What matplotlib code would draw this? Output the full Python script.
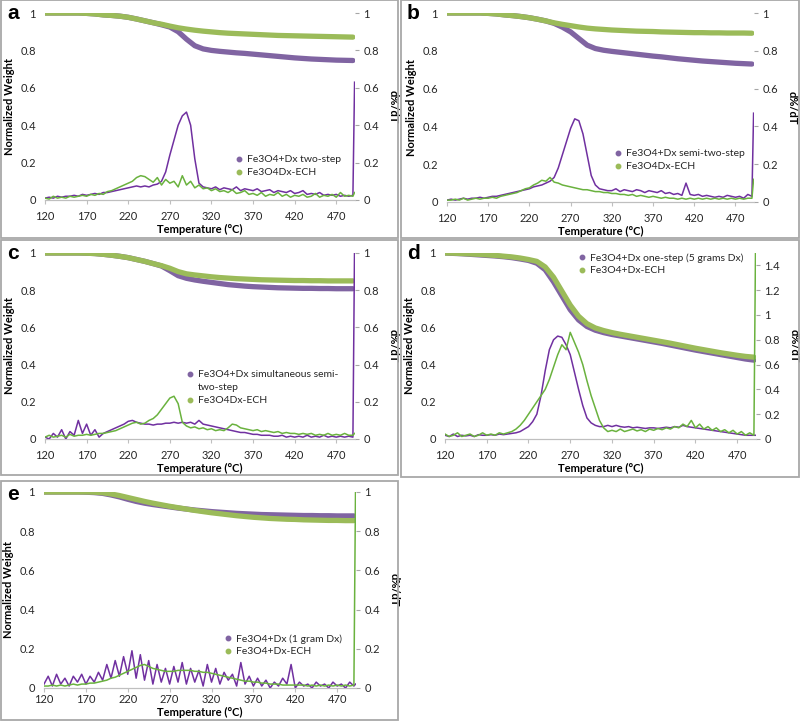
import matplotlib.pyplot as plt
from matplotlib.lines import Line2D
from matplotlib.patches import Rectangle

plt.rcParams['font.family'] = ['Lato', 'DejaVu Sans']

# temperature grids (°C)
temp_tga = [120, 130, 140, 150, 160, 170, 180, 190, 200, 210, 220, 230, 240, 250, 260, 270, 280, 290, 300,
            310, 320, 330, 340, 350, 360, 370, 380, 390, 400, 410, 420, 430, 440, 450, 460, 470, 480, 490]
temp_dtg = [120, 125, 130, 135, 140, 145, 150, 155, 160, 165, 170, 175, 180, 185, 190, 195, 200, 205, 210,
            215, 220, 225, 230, 235, 240, 245, 250, 255, 260, 265, 270, 275, 280, 285, 290, 295, 300, 305,
            310, 315, 320, 325, 330, 335, 340, 345, 350, 355, 360, 365, 370, 375, 380, 385, 390, 395, 400,
            405, 410, 415, 420, 425, 430, 435, 440, 445, 450, 455, 460, 465, 470, 475, 480, 485, 490, 492]

# ---- panel a
tga_a_dx = [1.0, 1.0, 1.0, 1.0, 1.0, 0.998, 0.995, 0.99, 0.987, 0.983, 0.977, 0.968, 0.958, 0.948, 0.937,
            0.925, 0.9, 0.86, 0.825, 0.808, 0.8, 0.795, 0.791, 0.787, 0.784, 0.78, 0.776, 0.772, 0.768, 0.764,
            0.76, 0.757, 0.754, 0.752, 0.75, 0.748, 0.747, 0.746]
tga_a_ech = [1.0, 1.0, 1.0, 1.0, 1.0, 0.998, 0.995, 0.99, 0.987, 0.983, 0.977, 0.968, 0.958, 0.948, 0.94,
             0.93, 0.921, 0.914, 0.908, 0.903, 0.899, 0.895, 0.892, 0.89, 0.888, 0.886, 0.884, 0.882, 0.88,
             0.879, 0.878, 0.877, 0.876, 0.875, 0.874, 0.873, 0.872, 0.871]
dtg_a_dx = [0.01, 0.015, 0.01, 0.02, 0.015, 0.02, 0.02, 0.025, 0.02, 0.03,
            0.025, 0.03, 0.035, 0.03, 0.04, 0.04, 0.045, 0.05, 0.055, 0.06,
            0.065, 0.07, 0.075, 0.07, 0.075, 0.07, 0.08, 0.085, 0.10, 0.15,
            0.24, 0.32, 0.40, 0.45, 0.47, 0.40, 0.22, 0.09, 0.07, 0.065,
            0.06, 0.07, 0.055, 0.065, 0.06, 0.055, 0.07, 0.05, 0.06, 0.055,
            0.05, 0.06, 0.045, 0.05, 0.055, 0.04, 0.05, 0.045, 0.04, 0.05,
            0.035, 0.04, 0.05, 0.03, 0.035, 0.03, 0.04, 0.025, 0.03, 0.025,
            0.03, 0.02, 0.025, 0.02, 0.025, 0.63]
dtg_a_ech = [0.01, 0.005, 0.02, 0.01, 0.015, 0.01, 0.02, 0.015, 0.02, 0.025,
             0.02, 0.03, 0.025, 0.035, 0.03, 0.045, 0.05, 0.06, 0.07, 0.08,
             0.09, 0.10, 0.12, 0.13, 0.125, 0.11, 0.095, 0.12, 0.08, 0.11,
             0.09, 0.10, 0.07, 0.13, 0.08, 0.10, 0.065, 0.08, 0.06, 0.065,
             0.05, 0.06, 0.045, 0.05, 0.04, 0.055, 0.035, 0.04, 0.05, 0.03,
             0.035, 0.025, 0.04, 0.02, 0.03, 0.025, 0.04, 0.02, 0.03, 0.015,
             0.025, 0.02, 0.03, 0.015, 0.02, 0.035, 0.015, 0.025, 0.02, 0.03,
             0.015, 0.04, 0.02, 0.025, 0.02, 0.04]

# ---- panel b
tga_b_dx = [1.0, 1.0, 1.0, 1.0, 1.0, 0.998, 0.995, 0.99, 0.986, 0.981, 0.975, 0.967, 0.958, 0.945, 0.925,
            0.9, 0.865, 0.83, 0.812, 0.803, 0.797, 0.792, 0.787, 0.782, 0.777, 0.772, 0.768, 0.763, 0.758,
            0.754, 0.75, 0.746, 0.743, 0.74, 0.737, 0.734, 0.732, 0.73]
tga_b_ech = [1.0, 1.0, 1.0, 1.0, 1.0, 0.998, 0.995, 0.99, 0.986, 0.981, 0.975, 0.967, 0.958, 0.948, 0.94,
             0.933, 0.926, 0.92, 0.916, 0.913, 0.91, 0.908, 0.906, 0.904, 0.903, 0.902, 0.9, 0.899, 0.898,
             0.897, 0.896, 0.896, 0.895, 0.895, 0.894, 0.894, 0.894, 0.893]
dtg_b_dx = [0.01, 0.015, 0.01, 0.015, 0.02, 0.015, 0.02, 0.02, 0.025, 0.02,
            0.025, 0.03, 0.03, 0.035, 0.04, 0.045, 0.05, 0.055, 0.06, 0.065,
            0.07, 0.08, 0.085, 0.09, 0.1, 0.11, 0.13, 0.18, 0.25, 0.32,
            0.39, 0.44, 0.43, 0.36, 0.25, 0.14, 0.09, 0.07, 0.065, 0.06,
            0.06, 0.07, 0.055, 0.065, 0.06, 0.055, 0.065, 0.06, 0.05, 0.06,
            0.055, 0.05, 0.06, 0.045, 0.05, 0.04, 0.045, 0.035, 0.1, 0.04,
            0.035, 0.04, 0.03, 0.035, 0.03, 0.025, 0.03, 0.025, 0.035, 0.03,
            0.025, 0.03, 0.02, 0.04, 0.03, 0.47]
dtg_b_ech = [0.01, 0.01, 0.015, 0.01, 0.02, 0.01, 0.015, 0.02, 0.015, 0.02,
             0.02, 0.025, 0.02, 0.03, 0.035, 0.04, 0.045, 0.05, 0.06, 0.07,
             0.075, 0.09, 0.1, 0.115, 0.11, 0.13, 0.105, 0.1, 0.09, 0.085,
             0.08, 0.075, 0.07, 0.065, 0.065, 0.06, 0.055, 0.055, 0.05, 0.05,
             0.045, 0.045, 0.04, 0.04, 0.035, 0.04, 0.03, 0.035, 0.03, 0.025,
             0.03, 0.025, 0.02, 0.025, 0.02, 0.02, 0.015, 0.02, 0.015, 0.02,
             0.015, 0.02, 0.015, 0.02, 0.015, 0.02, 0.015, 0.02, 0.015, 0.02,
             0.015, 0.02, 0.015, 0.02, 0.02, 0.12]

# ---- panel c
tga_c_dx = [1.0, 1.0, 1.0, 1.0, 1.0, 0.999, 0.997, 0.993, 0.988, 0.982, 0.975, 0.965, 0.955, 0.943, 0.93,
            0.905, 0.878, 0.864, 0.855, 0.848, 0.842, 0.836, 0.83, 0.826, 0.822, 0.819, 0.817, 0.815, 0.813,
            0.812, 0.811, 0.81, 0.81, 0.809, 0.809, 0.808, 0.808, 0.808]
tga_c_ech = [1.0, 1.0, 1.0, 1.0, 1.0, 0.999, 0.997, 0.993, 0.988, 0.982, 0.975, 0.965, 0.955, 0.943, 0.932,
             0.918, 0.9, 0.888, 0.882, 0.877, 0.872, 0.868, 0.865, 0.862, 0.86, 0.858, 0.856, 0.855, 0.854,
             0.853, 0.852, 0.852, 0.851, 0.851, 0.85, 0.85, 0.85, 0.85]
dtg_c_dx = [0.01, 0.0, 0.03, 0.01, 0.05, 0.0, 0.04, 0.02, 0.1, 0.03,
            0.08, 0.02, 0.05, 0.01, 0.03, 0.04, 0.05, 0.06, 0.07, 0.08,
            0.095, 0.1, 0.09, 0.085, 0.08, 0.08, 0.075, 0.08, 0.08, 0.085,
            0.085, 0.09, 0.085, 0.09, 0.085, 0.09, 0.08, 0.1, 0.08, 0.075,
            0.07, 0.065, 0.06, 0.055, 0.05, 0.045, 0.04, 0.035, 0.035, 0.03,
            0.025, 0.025, 0.02, 0.02, 0.02, 0.015, 0.015, 0.02, 0.01, 0.015,
            0.01, 0.015, 0.01, 0.02, 0.01, 0.015, 0.01, 0.02, 0.01, 0.015,
            0.01, 0.015, 0.01, 0.015, 0.01, 1.05]
dtg_c_ech = [0.01, 0.02, 0.01, 0.015, 0.02, 0.01, 0.025, 0.015, 0.02, 0.02,
             0.025, 0.02, 0.025, 0.03, 0.03, 0.035, 0.04, 0.045, 0.055, 0.065,
             0.075, 0.085, 0.09, 0.08, 0.085, 0.1, 0.11, 0.13, 0.16, 0.19,
             0.22, 0.23, 0.19, 0.09, 0.07, 0.06, 0.065, 0.055, 0.06, 0.05,
             0.055, 0.045, 0.05, 0.045, 0.06, 0.08, 0.075, 0.06, 0.055, 0.05,
             0.045, 0.05, 0.04, 0.045, 0.04, 0.035, 0.04, 0.03, 0.035, 0.03,
             0.03, 0.025, 0.03, 0.025, 0.03, 0.02, 0.025, 0.02, 0.03, 0.02,
             0.025, 0.02, 0.03, 0.02, 0.02, 0.03]

# ---- panel d (right axis up to 1.5)
tga_d_dx = [1.0, 0.998, 0.996, 0.993, 0.99, 0.987, 0.984, 0.98, 0.975, 0.968, 0.96, 0.945, 0.91, 0.845, 0.77,
            0.695, 0.64, 0.605, 0.585, 0.572, 0.562, 0.554, 0.546, 0.538, 0.53, 0.522, 0.514, 0.505, 0.496,
            0.487, 0.478, 0.47, 0.462, 0.454, 0.446, 0.438, 0.43, 0.424]
tga_d_ech = [1.0, 0.999, 0.997, 0.995, 0.993, 0.99, 0.987, 0.983, 0.979, 0.973, 0.965, 0.955, 0.925, 0.87,
             0.795, 0.72, 0.66, 0.62, 0.597, 0.583, 0.572, 0.563, 0.555, 0.547, 0.539, 0.531, 0.523, 0.515,
             0.506, 0.497, 0.488, 0.48, 0.472, 0.464, 0.457, 0.45, 0.444, 0.44]
dtg_d_dx = [0.03, 0.02, 0.04, 0.02, 0.03, 0.025, 0.03, 0.02, 0.035, 0.03,
            0.03, 0.035, 0.03, 0.04, 0.035, 0.04, 0.045, 0.05, 0.06, 0.08,
            0.1, 0.14, 0.2, 0.35, 0.55, 0.72, 0.8, 0.83, 0.82, 0.76,
            0.68, 0.54, 0.4, 0.27, 0.17, 0.13, 0.11, 0.1, 0.1, 0.11,
            0.1, 0.11, 0.1, 0.095, 0.1, 0.09, 0.095, 0.09, 0.085, 0.09,
            0.09, 0.085, 0.09, 0.095, 0.09, 0.1, 0.095, 0.11, 0.1, 0.095,
            0.09, 0.085, 0.08, 0.075, 0.07, 0.065, 0.06, 0.055, 0.05, 0.045,
            0.04, 0.035, 0.03, 0.03, 0.03, 0.03]
dtg_d_ech = [0.04, 0.02, 0.03, 0.05, 0.02, 0.03, 0.04, 0.02, 0.03, 0.05,
             0.03, 0.04, 0.03, 0.05, 0.04, 0.05, 0.06, 0.08, 0.11, 0.15,
             0.2, 0.25, 0.3, 0.35, 0.4, 0.48, 0.58, 0.68, 0.76, 0.72,
             0.86, 0.78, 0.7, 0.6, 0.47, 0.35, 0.25, 0.15, 0.09, 0.06,
             0.07, 0.06, 0.08, 0.06, 0.07, 0.08, 0.065, 0.075, 0.06, 0.08,
             0.07, 0.085, 0.075, 0.09, 0.08, 0.1, 0.09, 0.12, 0.1, 0.15,
             0.09, 0.12, 0.08, 0.1, 0.07, 0.09, 0.06, 0.075, 0.05, 0.07,
             0.04, 0.06, 0.03, 0.05, 0.03, 1.6]

# ---- panel e
tga_e_dx = [1.0, 1.0, 1.0, 1.0, 1.0, 0.999, 0.997, 0.993, 0.985, 0.975, 0.963, 0.952, 0.943, 0.936, 0.93,
            0.924, 0.918, 0.913, 0.908, 0.904, 0.9, 0.897, 0.894, 0.891, 0.889, 0.887, 0.885, 0.884, 0.883,
            0.882, 0.881, 0.88, 0.88, 0.879, 0.879, 0.878, 0.878, 0.878]
tga_e_ech = [1.0, 1.0, 1.0, 1.0, 1.0, 1.0, 0.999, 0.996, 0.99, 0.982, 0.972, 0.962, 0.952, 0.943, 0.935,
             0.927, 0.92, 0.913, 0.906, 0.9, 0.894, 0.889, 0.884, 0.879, 0.875, 0.871, 0.868, 0.865, 0.863,
             0.861, 0.86, 0.858, 0.857, 0.856, 0.855, 0.855, 0.854, 0.854]
dtg_e_dx = [0.02, 0.06, 0.01, 0.07, 0.02, 0.05, 0.01, 0.06, 0.03, 0.07,
            0.02, 0.06, 0.03, 0.08, 0.04, 0.12, 0.05, 0.14, 0.06, 0.16,
            0.07, 0.19, 0.05, 0.17, 0.04, 0.14, 0.02, 0.12, 0.03, 0.1,
            0.02, 0.11, 0.03, 0.13, 0.02, 0.1, 0.03, 0.09, 0.01, 0.12,
            0.03, 0.1, 0.02, 0.08, 0.04, 0.07, 0.01, 0.13, 0.02, 0.06,
            0.01, 0.05, 0.01, 0.04, 0.0, 0.03, 0.01, 0.05, 0.02, 0.12,
            0.0, 0.03, 0.01, 0.02, 0.0, 0.03, 0.01, 0.02, 0.0, 0.03,
            0.01, 0.02, 0.0, 0.03, 0.01, 0.02]
dtg_e_ech = [0.01, 0.01, 0.015, 0.01, 0.015, 0.01, 0.015, 0.02, 0.015, 0.02,
             0.02, 0.025, 0.025, 0.03, 0.035, 0.04, 0.05, 0.055, 0.065, 0.075,
             0.085, 0.095, 0.105, 0.115, 0.12, 0.11, 0.1, 0.095, 0.09, 0.085,
             0.085, 0.085, 0.09, 0.09, 0.09, 0.09, 0.085, 0.085, 0.08, 0.08,
             0.075, 0.07, 0.065, 0.06, 0.055, 0.05, 0.045, 0.04, 0.035, 0.035,
             0.03, 0.03, 0.025, 0.025, 0.02, 0.02, 0.02, 0.015, 0.015, 0.015,
             0.015, 0.015, 0.015, 0.01, 0.015, 0.01, 0.015, 0.01, 0.015, 0.01,
             0.015, 0.01, 0.015, 0.01, 0.015, 1.05]

# legend rows; None marks a continuation line without a marker
legend_a = [('Fe3O4+Dx two-step', 0), ('Fe3O4Dx-ECH', 1)]
legend_b = [('Fe3O4+Dx semi-two-step', 0), ('Fe3O4Dx-ECH', 1)]
legend_c = [('Fe3O4+Dx simultaneous semi-', 0), ('two-step', None), ('Fe3O4Dx-ECH', 1)]
legend_d = [('Fe3O4+Dx one-step (5 grams Dx)', 0), ('Fe3O4+Dx-ECH', 1)]
legend_e = [('Fe3O4+Dx (1 gram Dx)', 0), ('Fe3O4+Dx-ECH', 1)]

W, H = 800, 721
PURPLE_TGA = '#8064A2'
GREEN_TGA = '#9BBB59'
PURPLE_DTG = '#7030A0'
GREEN_DTG = '#6AB23E'
TXT = '#262626'

# pixel layout: panel box, plot area (l, t, r, b), legend corner
panels = [
    dict(letter='a', box=(1, 0, 398, 238), area=(45, 13, 355, 200), leg=(236, 155), rmax=1.0,
         tga=(tga_a_dx, tga_a_ech), dtg=(dtg_a_dx, dtg_a_ech), labels=legend_a, tickpad=5, xlab=24),
    dict(letter='b', box=(401, 0, 799, 238), area=(447, 13, 754, 202), leg=(615, 149), rmax=1.0,
         tga=(tga_b_dx, tga_b_ech), dtg=(dtg_b_dx, dtg_b_ech), labels=legend_b, tickpad=5, xlab=24),
    dict(letter='c', box=(1, 240, 398, 475), area=(45, 253, 355, 439), leg=(187, 370), rmax=1.0,
         tga=(tga_c_dx, tga_c_ech), dtg=(dtg_c_dx, dtg_c_ech), labels=legend_c, tickpad=5, xlab=24),
    dict(letter='d', box=(401, 240, 799, 477), area=(445, 253, 756, 439), leg=(579, 253), rmax=1.5,
         tga=(tga_d_dx, tga_d_ech), dtg=(dtg_d_dx, dtg_d_ech), labels=legend_d, tickpad=5, xlab=24),
    dict(letter='e', box=(1, 481, 398, 720), area=(44, 492, 356, 688), leg=(225, 634), rmax=1.0,
         tga=(tga_e_dx, tga_e_ech), dtg=(dtg_e_dx, dtg_e_ech), labels=legend_e, tickpad=1.5, xlab=19),
]

fig = plt.figure(figsize=(W / 100, H / 100), dpi=100)

for p in panels:
    bl, bt, br, bb = p['box']
    fig.patches.append(Rectangle((bl / W, 1 - bb / H), (br - bl) / W, (bb - bt) / H,
                                 transform=fig.transFigure, fill=False, ec='#A8A8A8', lw=1.3))
    l, t, r, b = p['area']
    aw, ah = r - l, b - t
    ax = fig.add_axes([l / W, 1 - b / H, aw / W, ah / H])
    ax2 = ax.twinx()

    ax.plot(temp_tga, p['tga'][0], color=PURPLE_TGA, lw=3.8, solid_capstyle='round')
    ax.plot(temp_tga, p['tga'][1], color=GREEN_TGA, lw=3.8, solid_capstyle='round')
    ax2.plot(temp_dtg, p['dtg'][0], color=PURPLE_DTG, lw=1.1)
    ax2.plot(temp_dtg, p['dtg'][1], color=GREEN_DTG, lw=1.1)

    ax.set_xlim(120, 492.5)
    ax.set_ylim(0, 1)
    ax2.set_ylim(0, p['rmax'])
    ax.set_xticks([120, 170, 220, 270, 320, 370, 420, 470])
    ax.set_yticks([0, 0.2, 0.4, 0.6, 0.8, 1])
    ax.set_yticklabels(['0', '0.2', '0.4', '0.6', '0.8', '1'])
    if p['rmax'] > 1:
        ax2.set_yticks([0, 0.2, 0.4, 0.6, 0.8, 1, 1.2, 1.4])
        ax2.set_yticklabels(['0', '0.2', '0.4', '0.6', '0.8', '1', '1.2', '1.4'])
    else:
        ax2.set_yticks([0, 0.2, 0.4, 0.6, 0.8, 1])
        ax2.set_yticklabels(['0', '0.2', '0.4', '0.6', '0.8', '1'])

    for a in (ax, ax2):
        for s in ('top', 'left', 'right'):
            a.spines[s].set_visible(False)
        a.spines['bottom'].set_color('#BFBFBF')
    ax.tick_params(axis='x', length=3, color='#BFBFBF', labelsize=8, labelcolor=TXT, pad=p['tickpad'])
    ax.tick_params(axis='y', length=0, labelsize=8, labelcolor=TXT, pad=6.5)
    ax2.tick_params(axis='y', length=3, color='#A6A6A6', labelsize=8, labelcolor=TXT, pad=3)

    ax.set_ylabel('Normalized Weight', fontsize=8, fontweight='bold', color='black')
    ax.yaxis.set_label_coords(-30 / aw, 0.5)
    ax2.set_ylabel('d%/dT', fontsize=8, fontweight='bold', color='black', rotation=270, va='center')
    ax2.yaxis.set_label_coords(1 + 38 / aw, 0.5)
    ax.set_xlabel('Temperature (°C)', fontsize=8, fontweight='bold', color='black')
    ax.xaxis.set_label_coords(0.5, -p['xlab'] / ah)

    colors = [PURPLE_TGA, GREEN_TGA]
    handles, texts = [], []
    for text, ci in p['labels']:
        if ci is None:
            handles.append(Line2D([], [], ls='', marker=''))
        else:
            handles.append(Line2D([], [], ls='', marker='o', ms=3.2, color=colors[ci]))
        texts.append(text)
    lx, ly = p['leg']
    ax2.legend(handles, texts, loc='upper left', bbox_to_anchor=(lx / W, 1 - ly / H),
               bbox_transform=fig.transFigure, frameon=False, fontsize=7.5, borderpad=0,
               borderaxespad=0, handlelength=0.6, handletextpad=0.45, labelspacing=0.35,
               labelcolor=TXT)

    fig.text((bl + 6) / W, 1 - (bt + 4) / H, p['letter'], fontsize=15, fontweight='bold',
             family='Liberation Sans', ha='left', va='top')

fig.savefig('out.png', dpi=100)
